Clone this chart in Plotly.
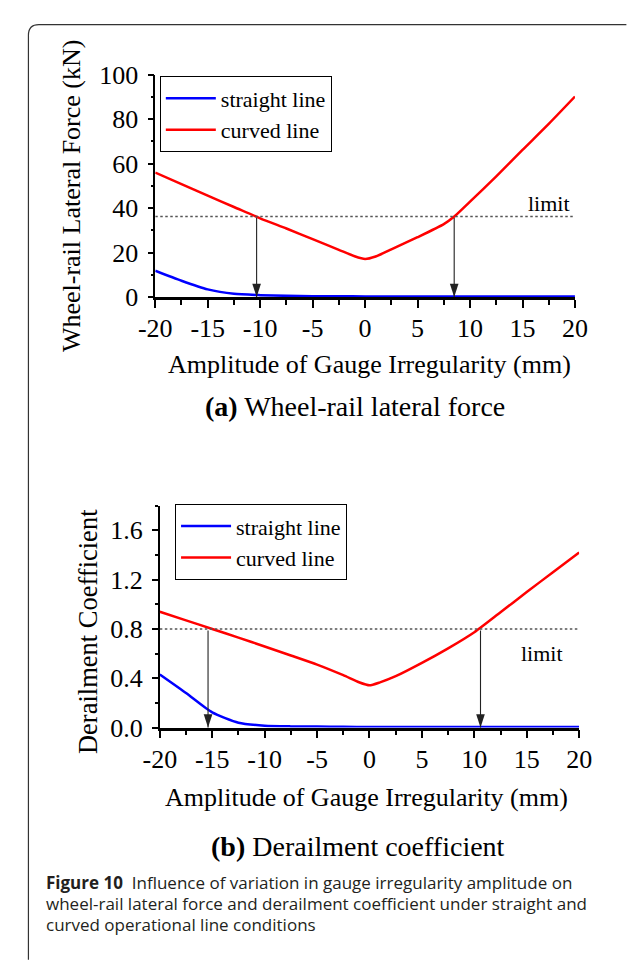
import plotly.graph_objects as go

# ---------------- data ----------------
# (a) Wheel-rail lateral force (kN)
x_a_curved = [-20, -17.5, -15, -12.5, -10, -7.5, -5, -2.5, -1, 0, 1, 2.5, 5, 7.5, 8.5, 10, 12.5, 15, 17.5, 20]
y_a_curved = [56.0, 50.8, 45.6, 40.5, 35.4, 30.8, 26.0, 21.2, 18.3, 17.1, 18.2, 21.4, 26.9, 32.8, 36.2, 42.9, 54.3, 66.2, 77.9, 90.2]
x_a_straight = [-20, -17.5, -15, -12.5, -10, -7.5, -5, -2.5, 0, 5, 10, 15, 20]
y_a_straight = [11.8, 7.3, 3.4, 1.4, 0.8, 0.5, 0.35, 0.3, 0.25, 0.2, 0.2, 0.2, 0.2]
limit_a = 36.2
arrows_a = [-10.34, 8.49]

# (b) Derailment coefficient
x_b_curved = [-20, -17.5, -15, -12.5, -10, -7.5, -5, -2.5, -1, 0, 1, 2.5, 5, 7.5, 10, 12.5, 15, 17.5, 20]
y_b_curved = [0.940, 0.870, 0.800, 0.730, 0.658, 0.585, 0.511, 0.425, 0.368, 0.343, 0.367, 0.417, 0.525, 0.643, 0.774, 0.936, 1.099, 1.261, 1.421]
x_b_straight = [-20, -17.5, -15, -12.5, -10, -7.5, -5, -2.5, 0, 5, 10, 15, 20]
y_b_straight = [0.43, 0.28, 0.123, 0.04, 0.016, 0.010, 0.008, 0.006, 0.005, 0.005, 0.005, 0.005, 0.005]
limit_b = 0.8
arrows_b = [-15.4, 10.59]

x_ticks = [-20, -15, -10, -5, 0, 5, 10, 15, 20]
x_tick_labels = ["-20", "-15", "-10", "-5", "0", "5", "10", "15", "20"]
y_a_ticks = [0, 20, 40, 60, 80, 100]
y_b_ticks = [0.0, 0.4, 0.8, 1.2, 1.6]
y_b_tick_labels = ["0.0", "0.4", "0.8", "1.2", "1.6"]
x_range = [-20, 20]

colors = {"straight line": "#0000ff", "curved line": "#ff0000"}

caption_lines = [
    "<b>Figure 10</b>\u00a0\u00a0Influence of variation in gauge irregularity amplitude on",
    "wheel-rail lateral force and derailment coefficient under straight and",
    "curved operational line conditions",
]

# ---------------- figure ----------------
W, H = 627, 966
SERIF = "Liberation Serif, Times New Roman, serif"
SANS = "Open Sans, Noto Sans, sans-serif"
ARROW_COLOR = "#222222"


def px(x):
    return x / W


def py(y):
    return 1 - y / H


fig = go.Figure()

line_style = dict(width=2.5, shape="spline", smoothing=0.6)


def add_panel(xs, ys, xc, yc, limit, arrows, xa, ya, leg):
    fig.add_trace(go.Scatter(x=xs, y=ys, name="straight line", mode="lines",
                             line=dict(color=colors["straight line"], **line_style),
                             xaxis=xa, yaxis=ya, legend=leg))
    fig.add_trace(go.Scatter(x=xc, y=yc, name="curved line", mode="lines",
                             line=dict(color=colors["curved line"], **line_style),
                             xaxis=xa, yaxis=ya, legend=leg))
    fig.add_trace(go.Scatter(x=x_range, y=[limit, limit], mode="lines", showlegend=False,
                             line=dict(color="#555555", width=1.5, dash="2.5px,2.5px"),
                             xaxis=xa, yaxis=ya, hoverinfo="skip"))
    # arrow heads resting on the x axis
    fig.add_trace(go.Scatter(x=arrows, y=[0] * len(arrows), mode="markers", showlegend=False,
                             marker=dict(symbol="arrow", angle=180, size=14, color=ARROW_COLOR,
                                         line=dict(width=0)),
                             cliponaxis=False, xaxis=xa, yaxis=ya, hoverinfo="skip"))


add_panel(x_a_straight, y_a_straight, x_a_curved, y_a_curved, limit_a, arrows_a, "x", "y", "legend")
add_panel(x_b_straight, y_b_straight, x_b_curved, y_b_curved, limit_b, arrows_b, "x2", "y2", "legend2")

axis_common = dict(
    showgrid=False, zeroline=False, showline=True, linecolor="black",
    ticks="outside", tickcolor="black", tickwidth=1.5,
    tickfont=dict(family=SERIF, size=26, color="black"),
    layer="below traces", mirror=False,
)
x_common = dict(**axis_common, range=x_range, tickvals=x_ticks, ticktext=x_tick_labels,
                linewidth=2.5, ticklen=8, ticklabelstandoff=-2,
                minor=dict(dtick=2.5, ticks="outside", ticklen=5, tickcolor="black", tickwidth=1.5, showgrid=False))
y_common = dict(**axis_common, linewidth=1.5, ticklen=6, ticklabelstandoff=4)

fig.update_layout(
    width=W, height=H,
    margin=dict(l=0, r=0, t=0, b=0),
    paper_bgcolor="white", plot_bgcolor="white",
    xaxis=dict(**x_common, domain=[px(145.2), px(586)], anchor="y"),
    yaxis=dict(**y_common, domain=[py(291.7), py(62.7)], range=[0, 100], tickvals=y_a_ticks,
               anchor="x", minor=dict(dtick=10, ticks="outside", ticklen=3, tickcolor="black", tickwidth=1.5, showgrid=False)),
    xaxis2=dict(**x_common, domain=[px(150), px(590.4)], anchor="y2"),
    yaxis2=dict(**y_common, domain=[py(735.7), py(506.9)], range=[0, 1.8], tickvals=y_b_ticks,
                ticktext=y_b_tick_labels, anchor="x2",
                minor=dict(dtick=0.2, ticks="outside", ticklen=3, tickcolor="black", tickwidth=1.5, showgrid=False)),
    legend=dict(x=px(150), y=py(64.3), xanchor="left", yanchor="top",
                bgcolor="white", bordercolor="black", borderwidth=1,
                font=dict(family=SERIF, size=22, color="black"), itemwidth=50,
                tracegroupgap=0),
    legend2=dict(x=px(166), y=py(505.3), xanchor="left", yanchor="top",
                 bgcolor="white", bordercolor="black", borderwidth=1,
                 font=dict(family=SERIF, size=22, color="black"), itemwidth=50,
                 tracegroupgap=0),
    showlegend=True,
)

annotations = []
# arrow shafts from the limit line down to the axis
for xa in arrows_a:
    annotations.append(dict(x=xa, y=0, ax=xa, ay=limit_a, xref="x", yref="y", axref="x", ayref="y",
                            text="", showarrow=True, arrowhead=0, arrowwidth=1.1,
                            arrowcolor=ARROW_COLOR, standoff=0))
for xb in arrows_b:
    annotations.append(dict(x=xb, y=0, ax=xb, ay=limit_b, xref="x2", yref="y2", axref="x2", ayref="y2",
                            text="", showarrow=True, arrowhead=0, arrowwidth=1.1,
                            arrowcolor=ARROW_COLOR, standoff=0))


def label(x, y, text, size, angle=0, family=SERIF):
    return dict(x=px(x), y=py(y), xref="paper", yref="paper", text=text, textangle=angle,
                xanchor="center", yanchor="middle", showarrow=False,
                font=dict(family=family, size=size, color="black"))


annotations += [
    dict(x=17.55, y=42.2, xref="x", yref="y", text="limit", showarrow=False,
         xanchor="center", yanchor="middle", font=dict(family=SERIF, size=22, color="black")),
    dict(x=16.5, y=0.60, xref="x2", yref="y2", text="limit", showarrow=False,
         xanchor="center", yanchor="middle", font=dict(family=SERIF, size=22, color="black")),
    label(370.6, 361.7, "Amplitude of Gauge Irregularity (mm)", 26),
    label(367, 808, "Amplitude of Gauge Irregularity (mm)", 26),
    label(58, 187.5, "Wheel-rail Lateral Force (kN)", 26, angle=-90),
    label(74, 636.7, "Derailment Coefficient", 26.5, angle=-90),
    label(355, 405, "<b>(a)</b> Wheel-rail lateral force", 28),
    label(358, 858, "<b>(b)</b> Derailment coefficient", 28),
]
for i, line in enumerate(caption_lines):
    annotations.append(dict(x=px(28), y=py(895 + 22 * i), xref="paper", yref="paper", text=line,
                            xanchor="left", yanchor="middle", showarrow=False,
                            font=dict(family=SANS, size=17, color="#231f20")))
fig.update_layout(annotations=annotations)

# outer frame (rounded top-left corner, continuing off the page)
frame = "M {x0},{yb} L {x0},{yc} Q {x0},{yt} {xc},{yt} L {xr},{yt}".format(
    x0=px(12), yb=py(975), yc=py(22), yt=py(11), xc=px(23), xr=px(640))
fig.add_shape(type="path", path=frame, xref="paper", yref="paper",
              line=dict(color="#333333", width=1.2))

fig.write_html("out.html")
